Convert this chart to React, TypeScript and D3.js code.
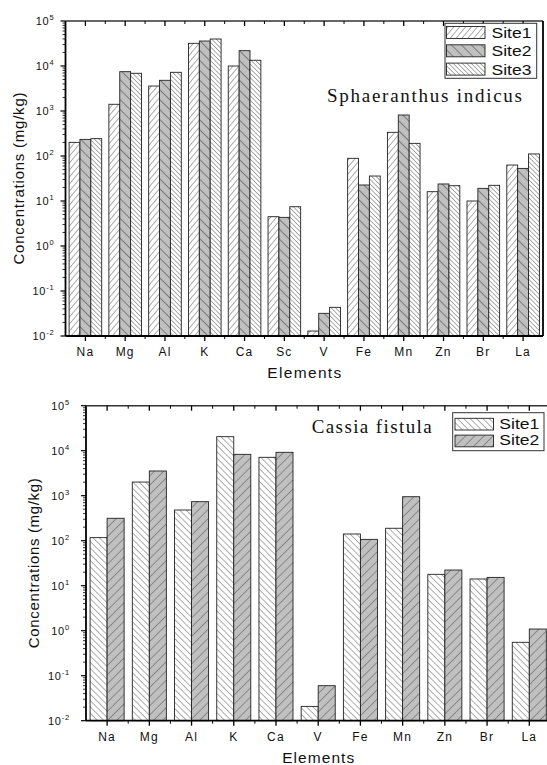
import React from 'react';
import * as d3 from 'd3';

const elementsTop = ['Na', 'Mg', 'Al', 'K', 'Ca', 'Sc', 'V', 'Fe', 'Mn', 'Zn', 'Br', 'La'];
const topSite1 = [201, 1410, 3590, 31900, 10000, 4.48, 0.0129, 88.8, 336, 16.1, 10, 63];
const topSite2 = [234, 7480, 4810, 35900, 21900, 4.33, 0.0319, 22.7, 815, 23.9, 19.1, 53];
const topSite3 = [243, 6890, 7240, 39800, 13400, 7.46, 0.0434, 35.9, 191, 21.9, 22.3, 111];

const elementsBottom = ['Na', 'Mg', 'Al', 'K', 'Ca', 'V', 'Fe', 'Mn', 'Zn', 'Br', 'La'];
const bottomSite1 = [117, 2010, 481, 20500, 7130, 0.0208, 141, 189, 17.9, 14.1, 0.552];
const bottomSite2 = [315, 3540, 736, 8300, 9210, 0.06, 107, 950, 22.3, 15.3, 1.09];

const exponents = [-2, -1, 0, 1, 2, 3, 4, 5];
const topSeriesNames = ['Site1', 'Site2', 'Site3'];
const bottomSeriesNames = ['Site1', 'Site2'];

const SANS = 'Liberation Sans, Arial, sans-serif';
const SERIF = 'Liberation Serif, Times New Roman, serif';

type Cfg = {
  id: string;
  cats: string[];
  series: number[][];
  names: string[];
  patterns: string[];
  left: number;
  right: number;
  top: number;
  bottom: number;
  groupPad: number;
  labelOffset: number;
  yLabelX: number;
  yLabelLen: number;
  title: string;
  titleX: number;
  titleY: number;
  titleLen: number;
  xTitleY: number;
  xTitleLen: number;
  legend: { x: number; y: number; w: number; h: number; sx: number; sw: number; sh: number; sy0: number; row: number; tx: number; ty0: number };
  drawRight: boolean;
};

function Chart({ c }: { c: Cfg }) {
  const x = d3.scaleBand<string>().domain(c.cats).range([c.left, c.right]).padding(0);
  const inner = d3
    .scaleBand<string>()
    .domain(c.names)
    .range([0, x.bandwidth()])
    .paddingInner(0)
    .paddingOuter(c.groupPad);
  const y = d3.scaleLog().domain([1e-2, 1e5]).range([c.bottom, c.top]);
  const minor: number[] = [];
  for (let e = -2; e < 5; e++) for (let m = 2; m <= 9; m++) minor.push(m * Math.pow(10, e));
  const bounds = c.cats.slice(1).map((k) => x(k)!);
  const L = c.legend;
  return (
    <g>
      {c.series.map((vals, si) =>
        vals.map((v, i) => {
          const bx = x(c.cats[i])! + inner(c.names[si])!;
          const by = y(v);
          return (
            <rect
              key={`${si}-${i}`}
              x={bx}
              y={by}
              width={inner.bandwidth()}
              height={c.bottom - by}
              fill={`url(#${c.patterns[si]})`}
              stroke="#222"
              strokeWidth={0.9}
            />
          );
        })
      )}
      {/* frame */}
      <line x1={c.left} x2={c.left} y1={c.top} y2={c.bottom} stroke="#000" strokeWidth={1.8} />
      <line x1={c.left} x2={c.right} y1={c.bottom} y2={c.bottom} stroke="#000" strokeWidth={1.8} />
      <line x1={c.left} x2={c.right} y1={c.top} y2={c.top} stroke="#333" strokeWidth={1.5} />
      {c.drawRight && <line x1={c.right} x2={c.right} y1={c.top} y2={c.bottom} stroke="#000" strokeWidth={1.8} />}
      {/* y ticks */}
      {exponents.map((e) => (
        <g key={e}>
          <line x1={c.left - 5} x2={c.left} y1={y(Math.pow(10, e))} y2={y(Math.pow(10, e))} stroke="#000" strokeWidth={1.2} />
          <text
            x={c.left - c.labelOffset}
            y={y(Math.pow(10, e)) + 4}
            textAnchor="end"
            fontFamily={SANS}
            fontSize={11}
            fill="#111"
            letterSpacing={0.8}
          >
            10
            <tspan fontSize={7.5} dy={-5}>
              {e}
            </tspan>
          </text>
        </g>
      ))}
      {minor.map((m, i) => (
        <line key={i} x1={c.left - 3} x2={c.left} y1={y(m)} y2={y(m)} stroke="#000" strokeWidth={0.8} />
      ))}
      {/* x ticks */}
      {c.cats.map((k) => {
        const cx = x(k)! + x.bandwidth() / 2;
        return (
          <g key={k}>
            <line x1={cx} x2={cx} y1={c.bottom} y2={c.bottom + 5} stroke="#000" strokeWidth={1.3} />
            <line x1={cx} x2={cx} y1={c.top} y2={c.top + 5} stroke="#000" strokeWidth={1.3} />
            <text x={cx} y={c.bottom + 20} textAnchor="middle" fontFamily={SANS} fontSize={12} letterSpacing={1.2} fill="#111">
              {k}
            </text>
          </g>
        );
      })}
      {bounds.map((b, i) => (
        <g key={i}>
          <line x1={b} x2={b} y1={c.bottom} y2={c.bottom + 3} stroke="#000" strokeWidth={1} />
          <line x1={b} x2={b} y1={c.top} y2={c.top + 3} stroke="#000" strokeWidth={1} />
        </g>
      ))}
      {/* axis titles */}
      <text
        x={(c.left + c.right) / 2}
        y={c.xTitleY}
        textAnchor="middle"
        fontFamily={SANS}
        fontSize={15.5}
        textLength={c.xTitleLen}
        lengthAdjust="spacing"
        fill="#111"
      >
        Elements
      </text>
      <text
        transform={`translate(${c.yLabelX},${(c.top + c.bottom) / 2}) rotate(-90)`}
        textAnchor="middle"
        fontFamily={SANS}
        fontSize={15}
        textLength={c.yLabelLen}
        lengthAdjust="spacing"
        fill="#111"
      >
        Concentrations (mg/kg)
      </text>
      {/* title */}
      <text
        x={c.titleX}
        y={c.titleY}
        fontFamily={SERIF}
        fontSize={19}
        textLength={c.titleLen}
        lengthAdjust="spacing"
        fill="#111"
      >
        {c.title}
      </text>
      {/* legend */}
      <rect x={L.x} y={L.y} width={L.w} height={L.h} fill="#fff" stroke="#333" strokeWidth={1} />
      {c.names.map((n, i) => (
        <g key={n}>
          <rect
            x={L.sx}
            y={L.sy0 + i * L.row}
            width={L.sw}
            height={L.sh}
            fill={`url(#${c.patterns[i]})`}
            stroke="#222"
            strokeWidth={0.9}
          />
          <text x={L.tx} y={L.ty0 + i * L.row} fontFamily={SANS} fontSize={15} textLength={40} lengthAdjust="spacingAndGlyphs" fill="#111">
            {n}
          </text>
        </g>
      ))}
    </g>
  );
}

function Hatch({ id, size, angle, bg, stroke = '#333', sw = 0.8 }: { id: string; size: number; angle: number; bg: string; stroke?: string; sw?: number }) {
  return (
    <pattern id={id} patternUnits="userSpaceOnUse" width={size} height={size} patternTransform={`rotate(${angle})`}>
      <rect x={0} y={0} width={size} height={size} fill={bg} />
      <line x1={0} y1={0} x2={0} y2={size} stroke={stroke} strokeWidth={sw} />
    </pattern>
  );
}

export default function App() {
  const topCfg: Cfg = {
    id: 'top',
    cats: elementsTop,
    series: [topSite1, topSite2, topSite3],
    names: topSeriesNames,
    patterns: ['t1', 't2', 't3'],
    left: 65.5,
    right: 543,
    top: 21,
    bottom: 336,
    groupPad: 0.33,
    labelOffset: 11,
    yLabelX: 24,
    yLabelLen: 172,
    title: 'Sphaeranthus indicus',
    titleX: 327,
    titleY: 102,
    titleLen: 195,
    xTitleY: 378,
    xTitleLen: 74,
    legend: { x: 445, y: 23.3, w: 91.7, h: 55, sx: 446.5, sw: 38.5, sh: 12, sy0: 26.5, row: 18.3, tx: 491.5, ty0: 38 },
    drawRight: true,
  };
  const bottomCfg: Cfg = {
    id: 'bottom',
    cats: elementsBottom,
    series: [bottomSite1, bottomSite2],
    names: bottomSeriesNames,
    patterns: ['b1', 'b2'],
    left: 86,
    right: 550.4,
    top: 405.7,
    bottom: 720.7,
    groupPad: 0.24,
    labelOffset: 16,
    yLabelX: 38.5,
    yLabelLen: 170,
    title: 'Cassia fistula',
    titleX: 311.7,
    titleY: 433,
    titleLen: 120,
    xTitleY: 763,
    xTitleLen: 72,
    legend: { x: 452.7, y: 412.7, w: 91.3, h: 38, sx: 455, sw: 38.5, sh: 11.7, sy0: 418.3, row: 16.8, tx: 499.3, ty0: 428.5 },
    drawRight: true,
  };
  return (
    <svg width={547} height={765} style={{ position: 'absolute', left: 0, top: 0, background: '#fff' }}>
      <defs>
        <Hatch id="t1" size={4.5} angle={40} bg="#fff" />
        <Hatch id="t2" size={7} angle={-45} bg="#c0c0c0" stroke="#222" sw={0.9} />
        <Hatch id="t3" size={3.2} angle={-45} bg="#fff" />
        <Hatch id="b1" size={4.5} angle={-45} bg="#fff" />
        <Hatch id="b2" size={6.5} angle={45} bg="#c0c0c0" stroke="#444" sw={0.9} />
      </defs>
      <rect x={0} y={0} width={547} height={765} fill="#fff" />
      <Chart c={topCfg} />
      <Chart c={bottomCfg} />
    </svg>
  );
}
